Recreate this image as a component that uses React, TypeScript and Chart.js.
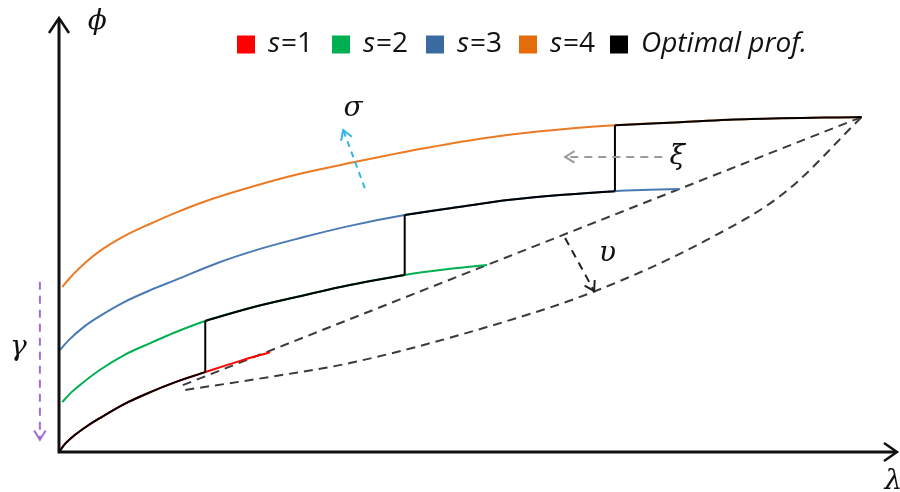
import React, { useEffect, useRef } from "react";
import { Chart, registerables } from "chart.js";
Chart.register(...registerables);

// ---- data (λ, φ in arbitrary units: λ 0..100, φ 0..100) ----
const s1Lambda = [0, 0.7, 1.9, 3.4, 4.9, 7.9, 11.0, 14.0, 17.6, 21.8, 25.4];
const s1Phi = [0, 1.8, 3.9, 6.0, 7.8, 11.1, 13.8, 16.1, 18.4, 21.0, 23.0];

const s2Lambda = [0.4, 1.3, 2.5, 4.9, 7.9, 11.0, 14.0, 17.6, 23.0, 29.0, 35.0, 41.6, 47.1, 51.5];
const s2Phi = [11.5, 13.4, 15.4, 18.9, 22.4, 25.1, 27.6, 30.2, 33.2, 35.9, 38.5, 40.8, 42.2, 43.1];

const s3Lambda = [0.1, 1.3, 3.1, 4.9, 7.9, 11.0, 14.0, 19.0, 24.2, 29.0, 35.0, 41.6, 48.3, 54.3, 60.3, 66.9, 71.1, 74.7];
const s3Phi = [23.5, 26.0, 29.0, 31.3, 34.6, 37.3, 39.6, 43.5, 46.8, 49.3, 52.1, 54.6, 56.5, 58.1, 59.2, 60.1, 60.4, 60.6];

const s4Lambda = [0.4, 1.3, 3.4, 4.9, 7.9, 11.0, 14.0, 17.8, 23.0, 29.0, 35.6, 43.4, 50.7, 57.9, 66.9, 74.7, 83.2, 96.6];
const s4Phi = [38.0, 40.1, 44.0, 46.3, 49.8, 52.6, 55.1, 57.9, 61.0, 64.1, 66.8, 69.8, 72.2, 73.9, 75.3, 76.0, 76.7, 77.2];

// switching points of the optimal profile (λ where s changes 1→2, 2→3, 3→4)
const switchLambda = [17.6, 41.6, 66.9];

// dashed envelope lines
const upperLambda = [14.9, 96.6];
const upperPhi = [15.4, 77.2];
const lowerLambda = [15.2, 25.4, 35.0, 51.5, 64.3, 77.9, 87.4, 96.6];
const lowerPhi = [14.3, 17.3, 20.5, 28.8, 36.9, 48.8, 59.9, 77.2];

const legendLabels = ["s=1", "s=2", "s=3", "s=4", "Optimal prof."];

const COLORS = {
  s1: "#ff0000",
  s2: "#00b050",
  s3: "#4a7ab5",
  s4: "#ea7a24",
  opt: "#000000",
};

type P = { x: number; y: number };
const pts = (xs: number[], ys: number[]): P[] => xs.map((x, i) => ({ x, y: ys[i] }));
const seg = (xs: number[], ys: number[], lo: number, hi: number): P[] =>
  pts(xs, ys).filter((p) => p.x >= lo - 1e-9 && p.x <= hi + 1e-9);
const at = (xs: number[], ys: number[], v: number): number => ys[xs.indexOf(v)];

const annotPlugin = {
  id: "annot",
  afterDatasetsDraw(chart: any) {
    const { ctx, chartArea: a, scales } = chart;
    const X = (v: number) => scales.x.getPixelForValue(v);
    const Y = (v: number) => scales.y.getPixelForValue(v);
    ctx.save();

    // axes
    ctx.strokeStyle = "#111";
    ctx.lineWidth = 3;
    ctx.setLineDash([]);
    ctx.lineCap = "butt";
    ctx.beginPath();
    ctx.moveTo(a.left, a.bottom + 1.5);
    ctx.lineTo(a.left, a.top + 1);
    ctx.moveTo(a.left - 1.5, a.bottom);
    ctx.lineTo(a.right + 6, a.bottom);
    ctx.stroke();
    ctx.lineWidth = 2.5;
    ctx.lineJoin = "miter";
    ctx.beginPath();
    ctx.moveTo(a.left - 10, a.top + 15);
    ctx.lineTo(a.left, a.top);
    ctx.lineTo(a.left + 10, a.top + 15);
    ctx.moveTo(a.right - 6, a.bottom - 9);
    ctx.lineTo(a.right + 7, a.bottom);
    ctx.lineTo(a.right - 6, a.bottom + 9);
    ctx.stroke();

    const arrow = (x1: number, y1: number, x2: number, y2: number, color: string, dash: number[]) => {
      const px1 = X(x1), py1 = Y(y1), px2 = X(x2), py2 = Y(y2);
      ctx.strokeStyle = color;
      ctx.lineWidth = 2;
      ctx.setLineDash(dash);
      ctx.beginPath();
      ctx.moveTo(px1, py1);
      ctx.lineTo(px2, py2);
      ctx.stroke();
      ctx.setLineDash([]);
      const ang = Math.atan2(py2 - py1, px2 - px1);
      const L = 11, w = 0.55;
      ctx.beginPath();
      ctx.moveTo(px2 - L * Math.cos(ang - w), py2 - L * Math.sin(ang - w));
      ctx.lineTo(px2, py2);
      ctx.lineTo(px2 - L * Math.cos(ang + w), py2 - L * Math.sin(ang + w));
      ctx.stroke();
    };
    arrow(36.8, 60.8, 34.2, 74.2, "#33b5e5", [6, 5]);
    arrow(72.6, 68.0, 60.9, 68.0, "#9a9a9a", [8, 6]);
    arrow(60.9, 49.3, 64.4, 37.1, "#222222", [8, 6]);
    arrow(-2.3, 39.2, -2.3, 2.8, "#a070d0", [8, 6]);

    // greek labels
    ctx.fillStyle = "#111";
    ctx.textAlign = "center";
    ctx.textBaseline = "middle";
    ctx.font = "italic 28px 'DejaVu Serif'";
    const lbl = (t: string, xv: number, yv: number) => ctx.fillText(t, X(xv), Y(yv));
    lbl("ϕ", 4.6, 99.1);
    lbl("σ", 35.4, 79.0);
    lbl("ξ", 74.4, 68.0);
    lbl("υ", 66.0, 45.6);
    lbl("γ", -4.9, 24.0);
    lbl("λ", 100.4, -6.8);

    // legend with italic variable names
    const items = [
      { c: "#ff0000", x: 237 },
      { c: "#00b050", x: 332 },
      { c: "#3a6aa0", x: 426 },
      { c: "#e46c0a", x: 519 },
      { c: "#000000", x: 610 },
    ];
    ctx.textAlign = "left";
    ctx.textBaseline = "middle";
    items.forEach((it, i) => {
      ctx.fillStyle = it.c;
      ctx.fillRect(it.x, 35.5, 18, 18);
      ctx.fillStyle = "#111";
      let tx = it.x + 31;
      const label = legendLabels[i];
      if (label.startsWith("s=")) {
        ctx.font = "italic 28px 'Open Sans'";
        ctx.fillText("s", tx, 44);
        tx += ctx.measureText("s").width + 1;
        ctx.font = "28px 'Open Sans'";
        ctx.fillText(label.slice(1), tx, 44);
      } else {
        ctx.font = "italic 28px 'Open Sans'";
        ctx.fillText(label, tx, 44);
      }
    });
    ctx.restore();
  },
};

export default function App() {
  const ref = useRef<HTMLCanvasElement | null>(null);
  useEffect(() => {
    document.body.style.margin = "0";
    const [j1, j2, j3] = switchLambda;
    const curve = (data: P[], color: string, order: number, width = 2) => ({
      data,
      borderColor: color,
      backgroundColor: color,
      borderWidth: width,
      pointRadius: 0,
      showLine: true,
      fill: false,
      cubicInterpolationMode: "monotone" as const,
      order,
      clip: false as const,
    });
    const vert = (v: number, ya: number, yb: number) =>
      curve([{ x: v, y: ya }, { x: v, y: yb }], COLORS.opt, 0);
    const dashed = (data: P[]) => ({
      ...curve(data, "#3a3a3a", 3),
      borderDash: [9, 6],
    });

    const chart = new Chart(ref.current!, {
      type: "scatter",
      data: {
        datasets: [
          curve(seg(s1Lambda, s1Phi, 0, j1), COLORS.opt, 0),
          curve(seg(s2Lambda, s2Phi, j1, j2), COLORS.opt, 0),
          curve(seg(s3Lambda, s3Phi, j2, j3), COLORS.opt, 0),
          curve(seg(s4Lambda, s4Phi, j3, 1000), COLORS.opt, 0),
          vert(j1, at(s1Lambda, s1Phi, j1), at(s2Lambda, s2Phi, j1)),
          vert(j2, at(s2Lambda, s2Phi, j2), at(s3Lambda, s3Phi, j2)),
          vert(j3, at(s3Lambda, s3Phi, j3), at(s4Lambda, s4Phi, j3)),
          curve(pts(s1Lambda, s1Phi), COLORS.s1, 1),
          curve(pts(s2Lambda, s2Phi), COLORS.s2, 1),
          curve(pts(s3Lambda, s3Phi), COLORS.s3, 1),
          curve(pts(s4Lambda, s4Phi), COLORS.s4, 1),
          dashed(pts(upperLambda, upperPhi)),
          dashed(pts(lowerLambda, lowerPhi)),
        ] as any,
      },
      options: {
        responsive: false,
        animation: false,
        events: [],
        layout: { padding: { left: 59, right: 10, top: 18, bottom: 40 } },
        scales: {
          x: { type: "linear", min: 0, max: 100, display: false },
          y: { type: "linear", min: 0, max: 100, display: false },
        },
        plugins: { legend: { display: false }, tooltip: { enabled: false } },
      },
      plugins: [annotPlugin],
    });
    return () => chart.destroy();
  }, []);
  return (
    <div style={{ position: "absolute", left: 0, top: 0, width: 900, height: 492, background: "#fff" }}>
      <canvas ref={ref} width={900} height={492} style={{ width: 900, height: 492 }} />
    </div>
  );
}
